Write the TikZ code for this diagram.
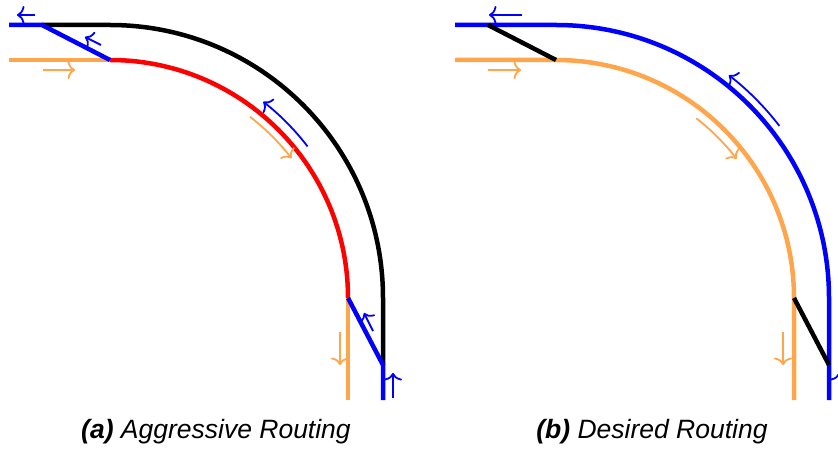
\documentclass[tikz,border=0pt]{standalone}
\usepackage{fontspec}
\setmainfont{Liberation Sans}
\usetikzlibrary{arrows.meta}
\definecolor{myorange}{RGB}{255,166,77}
\begin{document}
\begin{tikzpicture}[x=1pt,y=1pt,
  track/.style={line width=4.5pt},
  dirarrow/.style={line width=1.8pt,-{To[length=7.5pt,width=18pt]}},
  caption/.style={anchor=base,inner sep=0pt,font=\fontsize{26.5}{30}\selectfont\itshape}]
\useasboundingbox (0,0) rectangle (838,450);
% ---------------- panel (a)
\coordinate (Ca) at (110,152);
\coordinate (a1) at (9,425);
\coordinate (a2) at (42,425);
\coordinate (a3) at (110,425);
\coordinate (a5) at (383,85);
\coordinate (a6) at (383,50);
\coordinate (a7) at (9,390);
\coordinate (a8) at (110,390);
\coordinate (a9) at (348,152);
\coordinate (a10) at (348,50);
\draw[track,black] (a2) -- (a3) arc[start angle=90,end angle=0,radius=273] -- (a5);
\draw[track,red] (a8) arc[start angle=90,end angle=0,radius=238];
\draw[track,myorange] (a7) -- (a8);
\draw[track,myorange] (a9) -- (a10);
\draw[track,blue] (a1) -- (a2) -- (a8);
\draw[track,blue] (a9) -- (a5) -- (a6);
% arrows (a)
\draw[dirarrow,blue] (35,435) -- (17,435);
\draw[dirarrow,blue] (101,405) -- (85,413);
\draw[dirarrow,myorange] (43,380) -- (75,380);
\draw[dirarrow,blue] ([shift={(37.5:249)}]Ca) arc[start angle=37.5,end angle=52,radius=249];
\draw[dirarrow,myorange] ([shift={(52.3:229)}]Ca) arc[start angle=52.3,end angle=37.6,radius=229];
\draw[dirarrow,myorange] (340,118) -- (340,85);
\draw[dirarrow,blue] (393,52) -- (393,77);
\draw[dirarrow,blue] (373,119) -- (364,137);
\node[caption] (capa) at (216,12) {\textbf{(a)} Aggressive Routing};
% ---------------- panel (b)
\coordinate (Cb) at (556,152);
\coordinate (b1) at (455,425);
\coordinate (b2) at (488,425);
\coordinate (b3) at (556,425);
\coordinate (b5) at (829,85);
\coordinate (b6) at (829,50);
\coordinate (b7) at (455,390);
\coordinate (b8) at (556,390);
\coordinate (b9) at (794,152);
\coordinate (b10) at (794,50);
\draw[track,blue] (b1) -- (b3) arc[start angle=90,end angle=0,radius=273] -- (b6);
\draw[track,myorange] (b7) -- (b8) arc[start angle=90,end angle=0,radius=238] -- (b10);
\draw[track,black] (b2) -- (b8);
\draw[track,black] (b9) -- (b5);
% arrows (b)
\draw[dirarrow,blue] (522,435) -- (489,435);
\draw[dirarrow,myorange] (488,380) -- (521,380);
\draw[dirarrow,blue] ([shift={(37.6:282)}]Cb) arc[start angle=37.6,end angle=52.2,radius=282];
\draw[dirarrow,myorange] ([shift={(52:228)}]Cb) arc[start angle=52,end angle=37.6,radius=228];
\draw[dirarrow,myorange] (783,118) -- (783,85);
\draw[dirarrow,blue] (839,52) -- (839,77);
\node[caption] (capb) at (652,12) {\textbf{(b)} Desired Routing};
\end{tikzpicture}
\end{document}
